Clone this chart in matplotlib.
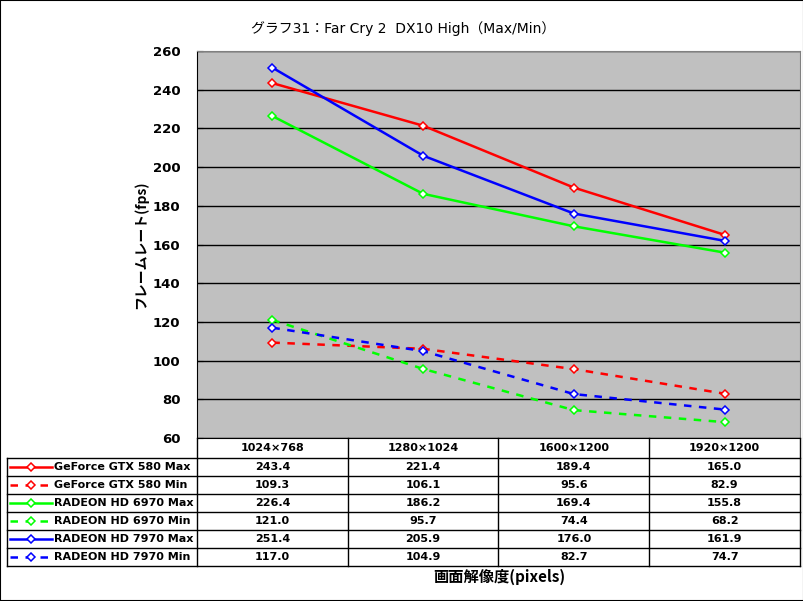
import numpy as np
import matplotlib
matplotlib.use("Agg")
import matplotlib.pyplot as plt
from matplotlib.lines import Line2D

plt.rcParams['font.family'] = ['Noto Sans CJK JP', 'DejaVu Sans']
LATIN = ['DejaVu Sans', 'Noto Sans CJK JP']

# ------------------------------------------------
# data
categories = ["1024×768", "1280×1024", "1600×1200", "1920×1200"]
series_names = [
    "GeForce GTX 580 Max",
    "GeForce GTX 580 Min",
    "RADEON HD 6970 Max",
    "RADEON HD 6970 Min",
    "RADEON HD 7970 Max",
    "RADEON HD 7970 Min",
]
gtx580_max = [243.4, 221.4, 189.4, 165.0]
gtx580_min = [109.3, 106.1, 95.6, 82.9]
hd6970_max = [226.4, 186.2, 169.4, 155.8]
hd6970_min = [121.0, 95.7, 74.4, 68.2]
hd7970_max = [251.4, 205.9, 176.0, 161.9]
hd7970_min = [117.0, 104.9, 82.7, 74.7]
series_values = [gtx580_max, gtx580_min, hd6970_max, hd6970_min, hd7970_max, hd7970_min]
colors = ["#FF0000", "#FF0000", "#00FF00", "#00FF00", "#0000FF", "#0000FF"]
dashed = [False, True, False, True, False, True]

W, H = 804, 601
fig = plt.figure(figsize=(W / 100, H / 100), dpi=100)


def fx(px):
    return px / W


def fy(py):
    return 1 - py / H


# plot area in pixels
left, right, top, bottom = 197, 800, 51, 438
ax = fig.add_axes([fx(left), fy(bottom), fx(right - left), (bottom - top) / H])
ax.set_facecolor("#C0C0C0")

x = np.arange(len(categories))
for vals, c, d in zip(series_values, colors, dashed):
    ax.plot(x, vals, color=c, lw=1.8, ls=(0, (3, 3)) if d else "-",
            marker="D", markersize=4.5, markerfacecolor="white",
            markeredgecolor=c, markeredgewidth=1.1, zorder=3)

ax.set_xlim(-0.5, len(categories) - 0.5)
ax.set_ylim(60, 260)
ax.set_yticks(np.arange(60, 261, 20))
ax.yaxis.grid(True, color="black", lw=1)
ax.set_axisbelow(True)
ax.set_xticks([])
ax.tick_params(axis="y", length=4, direction="in", labelsize=9.5, pad=12)
for lbl in ax.get_yticklabels():
    lbl.set_fontweight("bold")
    lbl.set_family(LATIN)
for s in ["top", "right"]:
    ax.spines[s].set_color("#808080")
ax.spines["left"].set_color("black")
ax.spines["bottom"].set_color("black")

ax.set_ylabel("フレームレート(fps)", fontsize=10, fontweight="bold", labelpad=3)
fig.text(fx(403), fy(29), "グラフ31：Far Cry 2  DX10 High（Max/Min）", ha="center", va="center",
         fontsize=10, family=LATIN)
fig.text(fx(499), fy(577), "画面解像度(pixels)", ha="center", va="center", fontsize=11, fontweight="bold")

# ------------------------------------------------
# data table below the chart
row_h = 18
head_top = bottom
head_bot = 458
table_bot = head_bot + row_h * len(series_names)
col_w = (right - left) / len(categories)
tl = 7


def hline(py, x0, x1):
    fig.add_artist(Line2D([fx(x0), fx(x1)], [fy(py), fy(py)], color="black", lw=1))


def vline(px, y0, y1):
    fig.add_artist(Line2D([fx(px), fx(px)], [fy(y0), fy(y1)], color="black", lw=1))


hline(head_bot, tl, right)
for i in range(1, len(series_names) + 1):
    hline(head_bot + i * row_h, tl, right)
vline(tl, head_bot, table_bot)
for j in range(len(categories) + 1):
    vline(left + j * col_w, head_top, table_bot)

for j, cat in enumerate(categories):
    fig.text(fx(left + (j + 0.5) * col_w), fy((head_top + head_bot) / 2), cat,
             ha="center", va="center", fontsize=8, fontweight="bold", family=LATIN)

for i, (name, vals, c, d) in enumerate(zip(series_names, series_values, colors, dashed)):
    yc = head_bot + (i + 0.5) * row_h
    fig.add_artist(Line2D([fx(10), fx(52)], [fy(yc), fy(yc)], color=c, lw=1.8,
                          ls=(0, (3, 3)) if d else "-"))
    fig.add_artist(Line2D([fx(31)], [fy(yc)], color=c, marker="D", markersize=4.5,
                          markerfacecolor="white", markeredgecolor=c, markeredgewidth=1.1))
    fig.text(fx(54), fy(yc), name, ha="left", va="center", fontsize=8, fontweight="bold",
             family=LATIN)
    for j, v in enumerate(vals):
        fig.text(fx(left + (j + 0.5) * col_w), fy(yc), "%.1f" % v,
                 ha="center", va="center", fontsize=8, fontweight="bold", family=LATIN)

# outer frame
fig.add_artist(plt.Rectangle((0, 0), 1, 1, fill=False, ec="black", lw=1.5,
                             transform=fig.transFigure))

fig.savefig("out.png", dpi=100)
